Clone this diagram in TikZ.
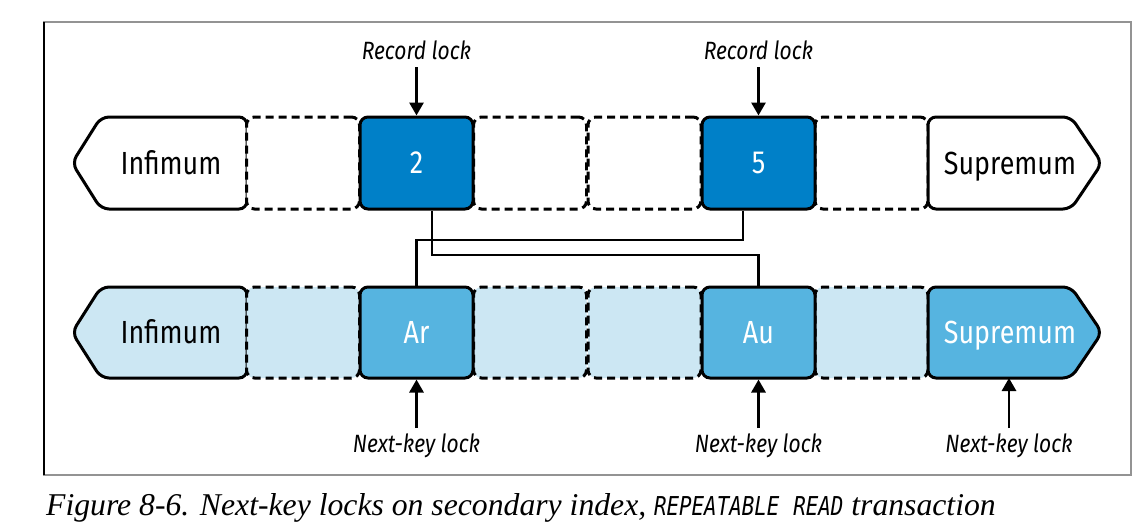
\documentclass[tikz,border=0pt]{standalone}
\usepackage{fontspec}
\setmainfont{Liberation Serif}
\newfontfamily\lblfont[FakeStretch=0.84]{Fira Sans}
\newfontfamily\capmono[FakeStretch=0.8]{DejaVu Sans Mono}
\usetikzlibrary{arrows.meta}
\definecolor{darkblue}{HTML}{0080C8}
\definecolor{midblue}{HTML}{56B4E0}
\definecolor{lightblue}{HTML}{CCE7F3}
\tikzset{
  cell/.style={rectangle, minimum width=113pt, minimum height=92pt, rounded corners=8pt, line width=3pt, inner sep=0pt},
  gapcell/.style={cell, draw=black, dashed, dash pattern=on 8pt off 5pt},
  keycell/.style={cell, draw=black, text=white, font=\lblfont\fontsize{32}{36}\selectfont},
  endtext/.style={font=\lblfont\fontsize{32}{36}\selectfont, inner sep=0pt, anchor=base},
  endshape/.style={line width=3pt, rounded corners=8pt, draw=black},
  lbl/.style={font=\lblfont\itshape\fontsize{25}{28}\selectfont, inner sep=0pt, anchor=base},
  lockarrow/.style={line width=2.9pt, -{Triangle[width=14pt,length=13pt]}},
  link/.style={line width=2.7pt}
}
\begin{document}
\begin{tikzpicture}[x=1pt,y=-1pt]
\useasboundingbox (0,0) rectangle (1142,522);
% frame
\draw[gray!85, line width=1.5pt] (44,22) rectangle (1131,475);
\draw[black, line width=1.3pt] (44,22) -- (44,475);

% ---------- top row ----------
\draw[endshape, fill=white] (247,117) -- (101,117) -- (72,163) -- (101,209) -- (247,209) -- cycle;
\node[endtext] (tinf) at (171,174) {Infimum};
\node[gapcell, fill=white] (t1) at (303,163) {};
\node[gapcell, fill=white] (t3) at (530,163) {};
\node[gapcell, fill=white] (t4) at (644.5,163) {};
\node[gapcell, fill=white] (t6) at (871.5,163) {};
\draw[endshape, fill=white] (928,117) -- (1071,117) -- (1102,163) -- (1071,209) -- (928,209) -- cycle;
\node[endtext] (tsup) at (1010,174) {Supremum};
\node[keycell, fill=darkblue] (k2) at (416.5,163) {2};
\node[keycell, fill=darkblue] (k5) at (758.5,163) {5};

% ---------- bottom row ----------
\draw[endshape, fill=lightblue] (247,287) -- (101,287) -- (72,332.5) -- (101,378) -- (247,378) -- cycle;
\node[endtext] (binf) at (171,343.5) {Infimum};
\node[gapcell, fill=lightblue, minimum height=91pt] (b1) at (303,332.5) {};
\node[gapcell, fill=lightblue, minimum height=91pt] (b3) at (530,332.5) {};
\node[gapcell, fill=lightblue, minimum height=91pt] (b4) at (644.5,332.5) {};
\node[gapcell, fill=lightblue, minimum height=91pt] (b6) at (871.5,332.5) {};
\draw[endshape, fill=midblue] (928,287) -- (1071,287) -- (1102,332.5) -- (1071,378) -- (928,378) -- cycle;
\node[endtext, text=white] (bsup) at (1010,343.5) {Supremum};
\node[keycell, fill=midblue, minimum height=91pt] (ar) at (416.5,332.5) {Ar};
\node[keycell, fill=midblue, minimum height=91pt] (au) at (758.5,332.5) {Au};

% ---------- links ----------
\coordinate (m1) at (432,255);
\coordinate (m2) at (743,240);
\draw[link] (k2.south -| m1) -- (m1) -| (au.north);
\draw[link] (k5.south -| m2) -- (m2) -| (ar.north);

% ---------- lock labels ----------
\node[lbl] (r2) at (416.5,59) {Record lock};
\node[lbl] (r5) at (758.5,59) {Record lock};
\draw[lockarrow] ([yshift=-8pt]r2.base) -- (k2.north);
\draw[lockarrow] ([yshift=-8pt]r5.base) -- (k5.north);

\node[lbl] (n1) at (416.5,452) {Next-key lock};
\node[lbl] (n2) at (758.5,452) {Next-key lock};
\coordinate (supx) at (1009,378);
\node[lbl] (n3) at (1009,452) {Next-key lock};
\draw[lockarrow] ([yshift=24pt]n1.base) -- (ar.south);
\draw[lockarrow] ([yshift=24pt]n2.base) -- (au.south);
\draw[lockarrow] ([yshift=24pt]n3.base) -- (supx);

% ---------- caption ----------
\node[anchor=base west, inner sep=0pt, font=\itshape\fontsize{31.7}{35}\selectfont] (cap) at (46,515)
  {Figure 8-6. Next-key locks on secondary index, {\capmono\fontsize{26}{29}\selectfont REPEATABLE\hspace{14pt}READ} transaction};
\end{tikzpicture}
\end{document}
